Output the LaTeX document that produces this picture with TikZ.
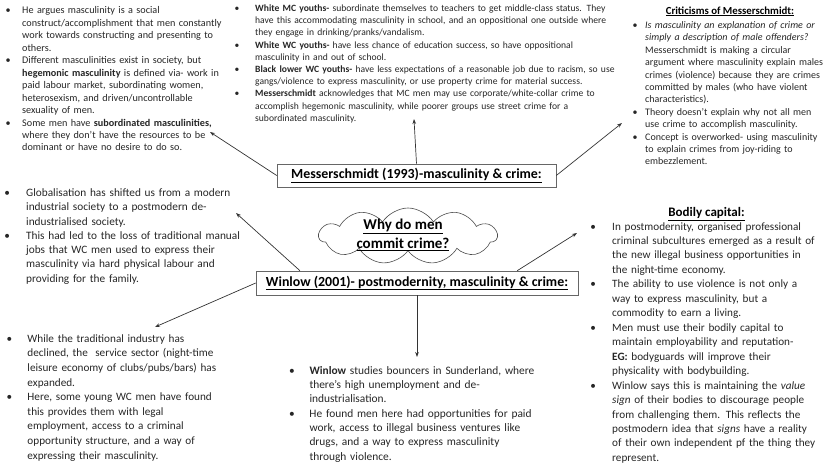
\documentclass[tikz,border=0pt]{standalone}
\usepackage{fontspec}
\setmainfont{Carlito}
\usetikzlibrary{arrows.meta,shapes.symbols}
\newlength{\bindent}
\newcommand{\bpt}[1]{\par\noindent\hangindent=\bindent\hangafter=1\makebox[\bindent][l]{\textbullet}#1\par}
\begin{document}
\begin{tikzpicture}[x=1pt,y=-1pt,
  txt/.style={anchor=north west,inner sep=0pt,align=left,text=black!85},
  head/.style={anchor=base,inner sep=0pt,text=black},
  hbox/.style={draw=black!60,line width=0.6pt,inner sep=0pt,text=black,font=\bfseries\fontsize{13.9}{16}\selectfont},
  arr/.style={draw=black!80,line width=0.7pt,-{Stealth[length=5pt,width=3.6pt]}}]
\useasboundingbox (0,0) rectangle (828,466);

% centre
\node[hbox,minimum width=279pt,minimum height=23pt] (mess) at (416.5,175.5) {\underline{Messerschmidt (1993)-masculinity \& crime:}};
\node[hbox,minimum width=322pt,minimum height=24pt] (winlow) at (417,283) {\underline{Winlow (2001)- postmodernity, masculinity \& crime:}};
\node[cloud,draw=black!70,line width=0.6pt,cloud puffs=11,cloud puff arc=115,aspect=3.2,minimum width=178pt,minimum height=56pt,inner sep=0pt] (cl) at (408,236) {};
\node[inner sep=0pt,align=center,font=\bfseries\fontsize{15}{19}\selectfont] (why) at (403,234.5) {\underline{Why do men}\\\underline{commit crime?}};

% Messerschmidt
\node[txt,text width=240pt,font={\fontsize{10.2}{12.45}\selectfont\setlength{\bindent}{16.5pt}}] (hege) at (5.5,1.3) {%
\bpt{He argues masculinity is a social\newline construct/accomplishment that men constantly\newline work towards constructing and presenting to\newline others.}%
\bpt{Different masculinities exist in society, but\newline \textbf{hegemonic masculinity} is defined via- work in\newline paid labour market, subordinating women,\newline heterosexism, and driven/uncontrollable\newline sexuality of men.}%
\bpt{Some men have \textbf{subordinated masculinities,}\newline where they don’t have the resources to be\newline dominant or have no desire to do so.}};

\node[txt,text width=440pt,font={\fontsize{9.6}{12.2}\selectfont\setlength{\bindent}{20.6pt}}] (youth) at (234.4,-1) {%
\bpt{\textbf{White MC youths-} subordinate themselves to teachers to get middle-class status. They\newline have this accommodating masculinity in school, and an oppositional one outside where\newline they engage in drinking/pranks/vandalism.}%
\bpt{\textbf{White WC youths-} have less chance of education success, so have oppositional\newline masculinity in and out of school.}%
\bpt{\textbf{Black lower WC youths-} have less expectations of a reasonable job due to racism, so use\newline gangs/violence to express masculinity, or use property crime for material success.}%
\bpt{\textbf{Messerschmidt} acknowledges that MC men may use corporate/white-collar crime to\newline accomplish hegemonic masculinity, while poorer groups use street crime for a\newline subordinated masculinity.}};

\node[head,font=\bfseries\fontsize{10.8}{12}\selectfont] (crit) at (730,14) {\underline{Criticisms of Messerschmidt:}};
\node[txt,text width=220pt,font={\fontsize{10}{12.4}\selectfont\setlength{\bindent}{12.5pt}}] (crits) at (632.5,15.8) {%
\bpt{\textit{Is masculinity an explanation of crime or\newline simply a description of male offenders?}\newline Messerschmidt is making a circular\newline argument where masculinity explain males\newline crimes (violence) because they are crimes\newline committed by males (who have violent\newline characteristics).}%
\bpt{Theory doesn’t explain why not all men\newline use crime to accomplish masculinity.}%
\bpt{Concept is overworked- using masculinity\newline to explain crimes from joy-riding to\newline embezzlement.}};

% Winlow
\node[txt,text width=260pt,font={\fontsize{11.3}{14.3}\selectfont\setlength{\bindent}{21.8pt}}] (glob) at (4.2,181.9) {%
\bpt{Globalisation has shifted us from a modern\newline industrial society to a postmodern de-\newline industrialised society.}%
\bpt{This had led to the loss of traditional manual\newline jobs that WC men used to express their\newline masculinity via hard physical labour and\newline providing for the family.}};

\node[txt,text width=240pt,font={\fontsize{11.2}{14.6}\selectfont\setlength{\bindent}{20.8pt}}] (serv) at (6.5,327.5) {%
\bpt{While the traditional industry has\newline declined, the \ service sector (night-time\newline leisure economy of clubs/pubs/bars) has\newline expanded.}%
\bpt{Here, some young WC men have found\newline this provides them with legal\newline employment, access to a criminal\newline opportunity structure, and a way of\newline expressing their masculinity.}};

\node[txt,text width=260pt,font={\fontsize{11.4}{14.3}\selectfont\setlength{\bindent}{20.4pt}}] (bounce) at (288.9,359.8) {%
\bpt{\textbf{Winlow} studies bouncers in Sunderland, where\newline there’s high unemployment and de-\newline industrialisation.}%
\bpt{He found men here had opportunities for paid\newline work, access to illegal business ventures like\newline drugs, and a way to express masculinity\newline through violence.}};

\node[head,font=\bfseries\fontsize{13}{14}\selectfont] (body) at (706.5,216.5) {\underline{Bodily capital:}};
\node[txt,text width=250pt,font={\fontsize{11.2}{14.46}\selectfont\setlength{\bindent}{21.8pt}}] (bodies) at (590.2,215.4) {%
\bpt{In postmodernity, organised professional\newline criminal subcultures emerged as a result of\newline the new illegal business opportunities in\newline the night-time economy.}%
\bpt{The ability to use violence is not only a\newline way to express masculinity, but a\newline commodity to earn a living.}%
\bpt{Men must use their bodily capital to\newline maintain employability and reputation-\newline \textbf{EG:} bodyguards will improve their\newline physicality with bodybuilding.}%
\bpt{Winlow says this is maintaining the \textit{value\newline sign} of their bodies to discourage people\newline from challenging them. This reflects the\newline postmodern idea that \textit{signs} have a reality\newline of their own independent pf the thing they\newline represent.}};

% arrows
\coordinate (a1) at (210,132);
\coordinate (a2) at (414,119);
\coordinate (a3) at (622,123);
\coordinate (a4) at (236,213);
\coordinate (a5) at (155,327);
\coordinate (a6) at (577,233);
\coordinate (a7) at (417,357);

\path[arr] (mess.west) -- (a1);
\path[arr] (mess.north) -- (a2);
\path[arr] (mess.east) -- (a3);
\path[arr] (winlow.174) -- (a4);
\path[arr] (winlow.west) -- (a5);
\path[arr] (winlow.7.6) -- (a6);
\path[arr] (winlow.south) -- (a7);
\end{tikzpicture}
\end{document}
